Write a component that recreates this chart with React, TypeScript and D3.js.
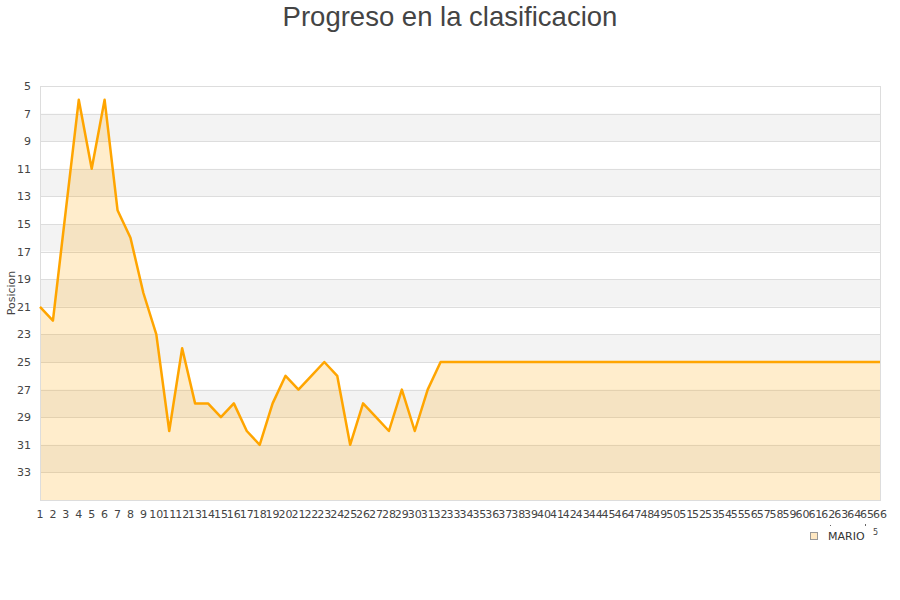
import React from "react";
import * as d3 from "d3";

const categories: number[] = d3.range(1, 67);
const positions: number[] = [
  21, 22, 14, 6, 11, 6, 14, 16, 20, 23,
  30, 24, 28, 28, 29, 28, 30, 31, 28, 26,
  27, 26, 25, 26, 31, 28, 29, 30, 27, 30,
  27, 25, 25, 25, 25, 25, 25, 25, 25, 25,
  25, 25, 25, 25, 25, 25, 25, 25, 25, 25,
  25, 25, 25, 25, 25, 25, 25, 25, 25, 25,
  25, 25, 25, 25, 25, 25,
];
const yTicks: number[] = d3.range(5, 35, 2);
const seriesName = "MARIO";
const title = "Progreso en la clasificacion";
const yLabel = "Posicion";

const W = 900;
const H = 600;
const left = 40;
const right = 880;
const top = 86;
const bottom = 500;

export default function App() {
  const x = d3.scaleLinear().domain([1, 66]).range([left, right]);
  const y = d3.scaleLinear().domain([5, 35]).range([top, bottom]);
  const pts = categories.map((c, i) => [c, positions[i]] as [number, number]);
  const line = d3
    .line<[number, number]>()
    .x((d) => x(d[0]))
    .y((d) => y(d[1]));
  const area = d3
    .area<[number, number]>()
    .x((d) => x(d[0]))
    .y0(y(35))
    .y1((d) => y(d[1]));
  const bands = d3.range(5, 35, 2);
  const tickFont = "DejaVu Sans, sans-serif";
  return (
    <svg
      width={W}
      height={H}
      style={{ position: "absolute", left: 0, top: 0 }}
      xmlns="http://www.w3.org/2000/svg"
    >
      <rect x={0} y={0} width={W} height={H} fill="#fff" />
      <text
        x={450}
        y={26}
        textAnchor="middle"
        fontFamily="Liberation Sans, Arial, sans-serif"
        fontSize={27.5}
        fill="#444"
      >
        {title}
      </text>
      {bands.map((b, i) => (
        <rect
          key={b}
          x={left}
          y={y(b)}
          width={right - left}
          height={y(b + 2) - y(b)}
          fill={i % 2 === 0 ? "#ffffff" : "#f3f3f3"}
        />
      ))}
      {yTicks.map((t) => (
        <line
          key={t}
          x1={left}
          x2={right}
          y1={Math.round(y(t)) + 0.5}
          y2={Math.round(y(t)) + 0.5}
          stroke="#dddddd"
          strokeWidth={1}
        />
      ))}
      <path d={area(pts) || ""} fill="rgba(255,165,0,0.2)" />
      <rect
        x={left + 0.5}
        y={top + 0.5}
        width={right - left}
        height={bottom - top}
        fill="none"
        stroke="#dddddd"
        strokeWidth={1}
      />
      <path
        d={line(pts) || ""}
        fill="none"
        stroke="#ffa500"
        strokeWidth={2.5}
        strokeLinejoin="round"
      />
      {yTicks.map((t) => (
        <text
          key={t}
          x={31}
          y={y(t) + 4}
          textAnchor="end"
          fontFamily={tickFont}
          fontSize={11}
          fill="#444"
        >
          {t}
        </text>
      ))}
      {categories.map((c) => (
        <text
          key={c}
          x={x(c)}
          y={518}
          textAnchor="middle"
          fontFamily={tickFont}
          fontSize={11}
          fill="#444"
        >
          {c}
        </text>
      ))}
      <text
        transform={`translate(15,${(top + bottom) / 2}) rotate(-90)`}
        textAnchor="middle"
        fontFamily={tickFont}
        fontSize={11}
        fill="#444"
      >
        {yLabel}
      </text>
      <rect
        x={810.5}
        y={532.5}
        width={7}
        height={7}
        fill="#ffe8c2"
        stroke="#999"
        strokeWidth={1}
      />
      <text
        x={828}
        y={540}
        fontFamily={tickFont}
        fontSize={11}
        fill="#333"
      >
        {seriesName}
      </text>
      <text x={873} y={535} fontFamily={tickFont} fontSize={8} fill="#444">
        5
      </text>
      <rect x={830} y={525} width={1} height={1} fill="#666" />
      <rect x={865} y={524} width={1} height={2} fill="#666" />
    </svg>
  );
}
